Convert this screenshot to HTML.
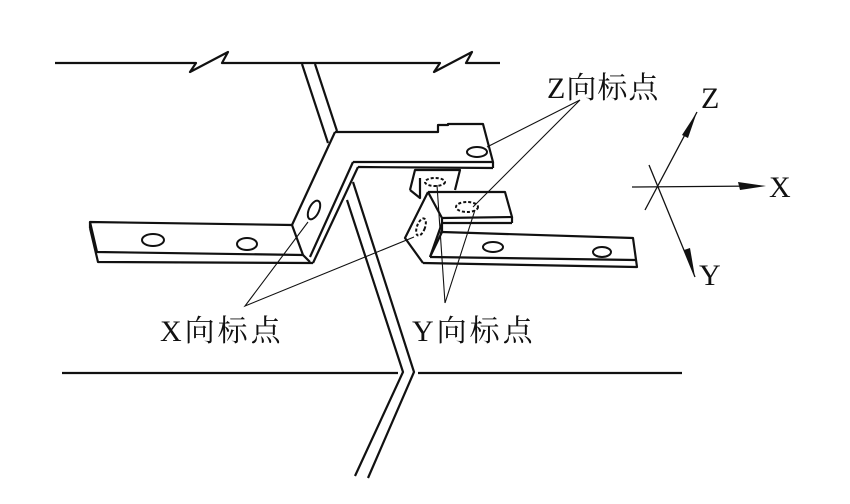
<!DOCTYPE html>
<html><head><meta charset="utf-8"><style>
body{margin:0;background:#fff}
svg{display:block}
text{font-family:"Liberation Serif","Noto Serif CJK SC",serif;fill:#111}
</style></head><body>
<svg width="850" height="504" viewBox="0 0 850 504" xmlns="http://www.w3.org/2000/svg">
<g fill="none" stroke="#111" stroke-width="2.2" stroke-linejoin="round">
<polyline points="55,63 196,63 190,72 228,52 222,63 440,63 434,72 472,52 466,63 500,63"/>
<line x1="302" y1="64" x2="328" y2="143"/>
<line x1="315" y1="64" x2="337" y2="131"/>
<polyline points="335,132 438,132 438,125 448,125 448,124 483,124 493,162 353,162"/>
<line x1="493" y1="162" x2="493" y2="168"/>
<line x1="358" y1="167" x2="493" y2="168"/>
<line x1="335" y1="132" x2="292" y2="225"/>
<line x1="353" y1="162" x2="310" y2="257"/>
<line x1="358" y1="167" x2="313" y2="263"/>
<polyline points="292,225 90,222 97,252 303,255 292,225"/>
<line x1="90" y1="222" x2="90" y2="228"/>
<polyline points="90,228 98,262 313,263"/>
<line x1="303" y1="255" x2="310" y2="262"/>
<polyline points="347,200 403,372 355,476"/>
<polyline points="353,182 414,372 368,478"/>
<line x1="62" y1="373" x2="398" y2="373"/>
<line x1="418" y1="373" x2="682" y2="373"/>
<polyline points="410,190 415,170 460,170 455,190"/>
<polyline points="410,190 420,198 420,178"/>
<polyline points="428,192 505,192 512,217 442,218 428,192"/>
<line x1="512" y1="217" x2="512" y2="223"/>
<line x1="442" y1="223" x2="512" y2="223"/>
<line x1="442" y1="218" x2="442" y2="232"/>
<polyline points="428,192 405,238 423,263"/>
<line x1="442" y1="223" x2="430" y2="257"/>
<polyline points="442,232 633,238 637,267 423,263"/>
<line x1="430" y1="257" x2="635" y2="260"/>
<line x1="442" y1="232" x2="430" y2="257"/>
</g>
<g fill="none" stroke="#111" stroke-width="2">
<ellipse cx="153" cy="240" rx="11" ry="6"/>
<ellipse cx="247" cy="244" rx="10" ry="6"/>
<ellipse cx="314" cy="210" rx="5" ry="10" transform="rotate(25 314 210)"/>
<ellipse cx="477" cy="152" rx="10" ry="5"/>
<ellipse cx="493" cy="247" rx="10" ry="5"/>
<ellipse cx="602" cy="252" rx="9" ry="5"/>
<ellipse cx="435" cy="182" rx="10" ry="4" stroke-dasharray="3,2"/>
<ellipse cx="467" cy="207" rx="11" ry="5" stroke-dasharray="3,2"/>
<ellipse cx="421" cy="227" rx="4" ry="9" stroke-dasharray="3,2" transform="rotate(20 421 227)"/>
</g>
<g stroke="#111" stroke-width="1.1" fill="none">
<polyline points="487,147 580,100 473,207"/>
<polyline points="308,222 245,306 414,237"/>
<polyline points="437,185 445,303 475,210"/>
</g>
<g stroke="#111" stroke-width="1.3">
<line x1="632" y1="187" x2="760" y2="186"/>
<line x1="645" y1="210" x2="697" y2="112"/>
<line x1="649" y1="165" x2="695" y2="277"/>
</g>
<g fill="#111">
<polygon points="766,186 738,182 740,190"/>
<polygon points="697,112 682,135 688,138"/>
<polygon points="695,277 684,250 690,248"/>
</g>
<text x="547" y="98" font-size="30" letter-spacing="1">Z向标点</text>
<text x="701" y="108" font-size="30">Z</text>
<text x="769" y="197" font-size="30">X</text>
<text x="699" y="285" font-size="30">Y</text>
<text x="160" y="341" font-size="30" letter-spacing="3">X向标点</text>
<text x="412" y="341" font-size="30" letter-spacing="3">Y向标点</text>
</svg>
</body></html>
